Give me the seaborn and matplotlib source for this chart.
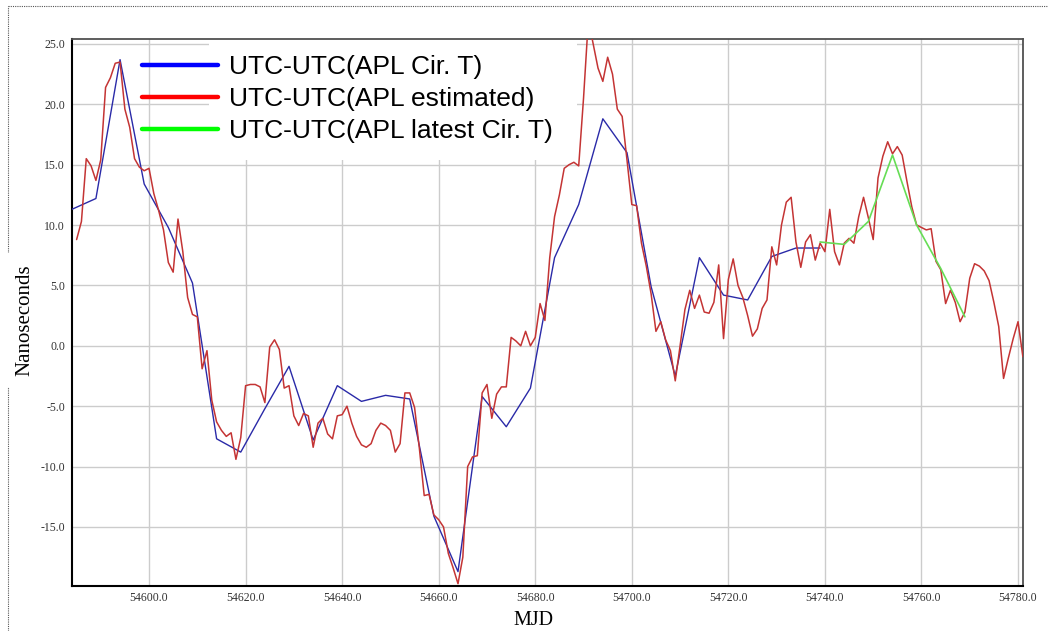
import numpy as np
import pandas as pd
import matplotlib
matplotlib.use("Agg")
import matplotlib.pyplot as plt
import seaborn as sns
from matplotlib.lines import Line2D
from matplotlib.patches import Rectangle

# UTC-UTC(APL estimated), one value per day starting at MJD 54585
red_start = 54585
red_vals = [
    8.8, 10.3, 15.5, 14.9, 13.7, 15.4, 21.4, 22.2, 23.4, 23.5,
    19.6, 18.1, 15.5, 14.8, 14.5, 14.7, 12.6, 11.2, 9.6, 6.9,
    6.1, 10.5, 7.8, 4.0, 2.6, 2.4, -1.9, -0.4, -4.5, -6.3,
    -7.0, -7.5, -7.2, -9.4, -7.6, -3.3, -3.2, -3.2, -3.4, -4.7,
    -0.1, 0.5, -0.3, -3.5, -3.3, -5.8, -6.6, -5.6, -5.8, -8.4,
    -6.4, -6.0, -7.3, -7.7, -5.8, -5.7, -5.0, -6.4, -7.5, -8.2,
    -8.4, -8.1, -7.0, -6.4, -6.6, -7.0, -8.8, -8.1, -3.9, -3.9,
    -5.1, -8.5, -12.4, -12.3, -14.0, -14.4, -15.0, -17.2, -18.4, -19.7,
    -17.5, -10.0, -9.2, -9.1, -3.9, -3.2, -6.0, -4.0, -3.4, -3.4,
    0.7, 0.4, 0.0, 1.2, 0.0, 0.7, 3.5, 2.1, 7.3, 10.7,
    12.5, 14.7, 15.0, 15.2, 14.9, 20.5, 27.0, 25.0, 23.0, 21.9,
    23.9, 22.5, 19.6, 19.0, 15.4, 11.7, 11.6, 8.5, 6.6, 4.3,
    1.2, 2.0, 0.5, -0.4, -2.9, 0.0, 3.0, 4.6, 3.1, 4.2,
    2.8, 2.7, 3.6, 6.7, 0.6, 5.5, 7.2, 5.0, 4.0, 2.5,
    0.8, 1.4, 3.1, 3.8, 8.2, 6.7, 10.0, 11.9, 12.3, 8.6,
    6.5, 8.6, 9.2, 7.1, 8.5, 7.8, 11.3, 7.8, 6.7, 8.5,
    8.9, 8.5, 10.7, 12.3, 10.6, 8.8, 13.9, 15.7, 16.9, 15.9,
    16.5, 15.8, 13.6, 11.5, 10.0, 9.8, 9.6, 9.7, 7.0, 6.3,
    3.5, 4.6, 3.6, 2.0, 2.8, 5.6, 6.8, 6.6, 6.2, 5.4,
    3.6, 1.6, -2.7, -1.0, 0.6, 2.0, -0.9,
]
red_mjd = list(range(red_start, red_start + len(red_vals)))

# UTC-UTC(APL Cir. T)
blue_mjd = [54584, 54589, 54594, 54599, 54604, 54609, 54614, 54619, 54624, 54629,
            54634, 54639, 54644, 54649, 54654, 54659, 54664, 54669, 54674, 54679,
            54684, 54689, 54694, 54699, 54704, 54709, 54714, 54719, 54724, 54729,
            54734, 54739]
blue_vals = [11.3, 12.2, 23.7, 13.4, 9.8, 5.2, -7.7, -8.8, -5.2, -1.7,
             -7.8, -3.3, -4.6, -4.1, -4.4, -14.1, -18.7, -4.2, -6.7, -3.5,
             7.3, 11.7, 18.8, 16.0, 4.9, -2.5, 7.3, 4.2, 3.8, 7.4,
             8.1, 8.1]

# UTC-UTC(APL latest Cir. T)
green_mjd = [54739, 54744, 54749, 54754, 54759, 54764, 54769]
green_vals = [8.6, 8.4, 10.3, 15.8, 10.0, 6.4, 2.4]

labels = ["UTC-UTC(APL Cir. T)", "UTC-UTC(APL estimated)", "UTC-UTC(APL latest Cir. T)"]
xticks = [54600, 54620, 54640, 54660, 54680, 54700, 54720, 54740, 54760, 54780]
yticks = [-15, -10, -5, 0, 5, 10, 15, 20, 25]

sns.set_style("white")
plt.rcParams['font.family'] = ['Liberation Serif', 'DejaVu Serif']
plt.rcParams['text.color'] = 'black'

fig = plt.figure(figsize=(10.56, 6.31), dpi=100)
ax = fig.add_axes([0.0682, 0.0713, 0.9006, 0.8669])

blue_df = pd.DataFrame({'MJD': blue_mjd, 'ns': blue_vals})
red_df = pd.DataFrame({'MJD': red_mjd, 'ns': red_vals})
green_df = pd.DataFrame({'MJD': green_mjd, 'ns': green_vals})

sns.lineplot(data=blue_df, x='MJD', y='ns', ax=ax, color='#2a2aa8', lw=1.0,
             sort=False, estimator=None, zorder=3)
sns.lineplot(data=red_df, x='MJD', y='ns', ax=ax, color='#c43434', lw=1.1,
             sort=False, estimator=None, zorder=4)
sns.lineplot(data=green_df, x='MJD', y='ns', ax=ax, color='#66dd55', lw=1.2,
             sort=False, estimator=None, zorder=5)

ax.set_xlim(54584.05, 54781.04)
ax.set_ylim(-19.89, 25.41)
ax.set_xticks(xticks)
ax.set_yticks(yticks)
ax.set_xticklabels(['%.1f' % v for v in xticks])
ax.set_yticklabels(['%.1f' % v for v in yticks])
ax.tick_params(axis='both', length=0, labelsize=8.5, labelcolor='#333333')
ax.tick_params(axis='y', pad=5)
ax.tick_params(axis='x', pad=4.5)
ax.grid(True, color='#cccccc', lw=1.0)
ax.set_axisbelow(True)

for side in ['left', 'bottom']:
    ax.spines[side].set_color('black')
    ax.spines[side].set_linewidth(1.5)
for side in ['top', 'right']:
    ax.spines[side].set_color('#505050')
    ax.spines[side].set_linewidth(1.3)

# white box behind the legend text hides the grid there
ax.add_patch(Rectangle((0.144, 0.779), 0.387, 0.221, transform=ax.transAxes,
                       facecolor='white', edgecolor='none', zorder=1))

handles = [Line2D([], [], color='#0000ff', lw=3.2),
           Line2D([], [], color='#ff0000', lw=3.2),
           Line2D([], [], color='#00ff00', lw=3.2)]
leg = ax.legend(handles, labels, loc='upper left', bbox_to_anchor=(0.0736, 0.971),
                frameon=False, borderpad=0, borderaxespad=0, handlelength=2.88,
                handletextpad=0.42, labelspacing=0.31,
                prop={'family': ['Liberation Sans', 'DejaVu Sans'], 'size': 19})
for t in leg.get_texts():
    t.set_color('black')

ax.set_xlabel('MJD', fontsize=14.5, color='black')
ax.set_ylabel('Nanoseconds', fontsize=15, color='black',
              bbox=dict(facecolor='white', edgecolor='none', pad=8))
ax.xaxis.set_label_coords(0.4847, -0.0622)
ax.xaxis.label.set_va('center')
ax.yaxis.set_label_coords(-0.0494, 0.486)
ax.yaxis.label.set_va('center')

# dotted frame round the picture
fig.add_artist(Line2D([0.0076, 0.9915], [0.9905, 0.9905], transform=fig.transFigure,
                      color='#555555', lw=0.8, linestyle=(0, (1, 1)), zorder=0))
fig.add_artist(Line2D([0.0076, 0.0076], [0.0, 0.9905], transform=fig.transFigure,
                      color='#555555', lw=0.8, linestyle=(0, (1, 1)), zorder=0))

fig.savefig('out.png', dpi=100)
